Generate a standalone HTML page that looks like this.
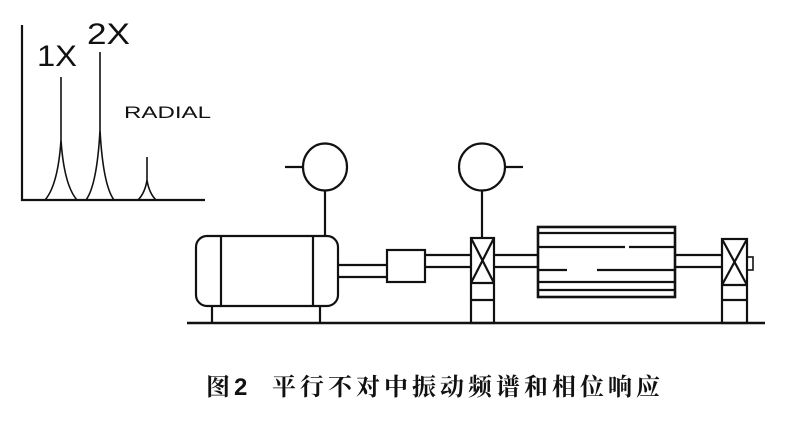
<!DOCTYPE html>
<html><head><meta charset="utf-8"><style>
html,body{margin:0;padding:0;background:#fff;width:800px;height:439px;overflow:hidden}
.cap{position:absolute;top:374px;font-family:"Liberation Serif","Noto Serif CJK SC",serif;font-weight:bold;font-size:24px;line-height:28px;color:#111;white-space:nowrap}
</style></head><body>
<svg width="800" height="439" viewBox="0 0 800 439" xmlns="http://www.w3.org/2000/svg" style="position:absolute;left:0;top:0">
<g fill="none" stroke="#111" stroke-width="2.2">
<line x1="22" y1="25" x2="22" y2="201"/>
<line x1="21" y1="200" x2="205" y2="200"/>
<path d="M45 200 Q58 185 61 140 L61 77 L61 140 Q64 185 77 200" stroke-width="1.6"/>
<path d="M86 200 Q97 185 100 130 L100 52 L100 130 Q103 185 114 200" stroke-width="1.6"/>
<path d="M138 200 Q145 193 147 180 L147 157 L147 180 Q149 193 156 200" stroke-width="1.6"/>
<ellipse cx="325" cy="167" rx="22" ry="23.5"/>
<line x1="285" y1="167" x2="303" y2="167"/>
<line x1="325" y1="191" x2="325" y2="236"/>
<ellipse cx="482" cy="167" rx="23" ry="23.5"/>
<line x1="505" y1="167" x2="523" y2="167"/>
<line x1="482" y1="191" x2="482" y2="238"/>
<rect x="196" y="236" width="142" height="70" rx="11"/>
<line x1="221" y1="236" x2="221" y2="306"/>
<line x1="313" y1="236" x2="313" y2="306"/>
<line x1="212" y1="306" x2="212" y2="323"/>
<line x1="320" y1="306" x2="320" y2="323"/>
<line x1="187" y1="323" x2="765" y2="323" stroke-width="2.6"/>
<line x1="338" y1="265" x2="387" y2="265"/>
<line x1="338" y1="277" x2="387" y2="277"/>
<rect x="387" y="250" width="38" height="32"/>
<line x1="425" y1="255" x2="471" y2="255"/>
<line x1="425" y1="267" x2="471" y2="267"/>
<rect x="471" y="238" width="23" height="85"/>
<line x1="471" y1="283" x2="494" y2="283"/>
<line x1="471" y1="300" x2="494" y2="300"/>
<line x1="471" y1="238" x2="494" y2="283"/>
<line x1="494" y1="238" x2="471" y2="283"/>
<line x1="494" y1="255" x2="538" y2="255"/>
<line x1="494" y1="267" x2="538" y2="267"/>
<rect x="538" y="227" width="137" height="70" stroke-width="2.6"/>
<line x1="538" y1="233" x2="675" y2="233"/>
<line x1="538" y1="247" x2="625" y2="247"/>
<line x1="629" y1="247" x2="675" y2="247"/>
<line x1="538" y1="270" x2="567" y2="270"/>
<line x1="597" y1="270" x2="675" y2="270"/>
<line x1="538" y1="282" x2="675" y2="282"/>
<line x1="538" y1="290" x2="675" y2="290"/>
<line x1="675" y1="255" x2="722" y2="255"/>
<line x1="675" y1="267" x2="722" y2="267"/>
<rect x="722" y="239" width="25" height="84"/>
<line x1="722" y1="285" x2="747" y2="285"/>
<line x1="722" y1="300" x2="747" y2="300"/>
<line x1="722" y1="239" x2="747" y2="285"/>
<line x1="747" y1="239" x2="722" y2="285"/>
<rect x="747" y="257" width="6" height="13" stroke-width="1.6"/>
</g>
<g font-family="Liberation Sans, sans-serif" fill="#111">
<text x="37" y="66" font-size="30" textLength="40" lengthAdjust="spacingAndGlyphs">1X</text>
<text x="87" y="44" font-size="30" textLength="43" lengthAdjust="spacingAndGlyphs">2X</text>
<text x="124" y="118" font-size="17" textLength="87" lengthAdjust="spacingAndGlyphs">RADIAL</text>
</g>
</svg>
<div class="cap" style="left:206px">图</div>
<div class="cap" style="left:234px;font-family:'Liberation Sans',sans-serif;font-size:24px">2</div>
<div class="cap" style="left:272px;letter-spacing:4px">平行不对中振动频谱和相位响应</div>
</body></html>
